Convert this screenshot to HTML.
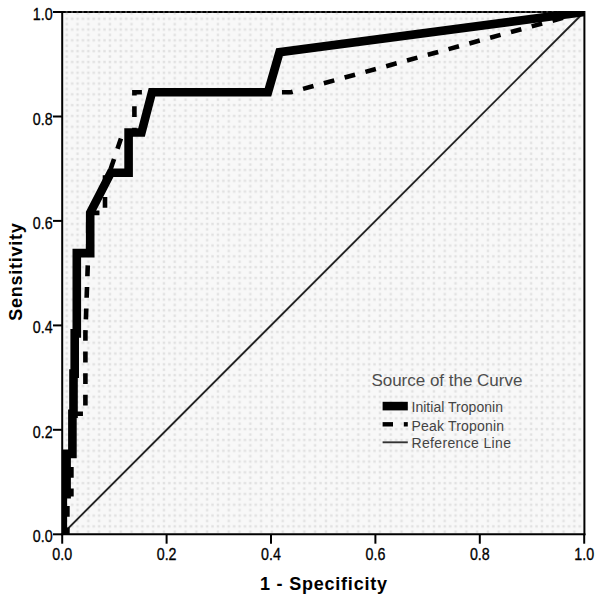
<!DOCTYPE html>
<html><head><meta charset="utf-8">
<style>
html,body{margin:0;padding:0;background:#fff;}
body{width:602px;height:605px;overflow:hidden;position:relative;}
svg{position:absolute;left:0;top:0;}
text{font-family:"Liberation Sans",sans-serif;}
</style></head>
<body>
<svg width="602" height="605" viewBox="0 0 602 605">
<defs>
<pattern id="dots" x="0" y="0" width="10.8" height="10.8" patternUnits="userSpaceOnUse">
<rect width="10.8" height="10.8" fill="#f8f8f8"/>
<rect x="0.75" y="6.75" width="2.4" height="2.4" fill="#e1e1e1"/>
<rect x="6.15" y="6.75" width="2.4" height="2.4" fill="#e1e1e1"/>
<rect x="0.75" y="1.35" width="2.4" height="2.4" fill="#e1e1e1"/>
</pattern>
<clipPath id="pc"><rect x="62" y="11" width="523" height="524"/></clipPath>
</defs>
<!-- plot background -->
<rect x="62.2" y="12" width="522" height="522.3" fill="url(#dots)"/>
<!-- frame -->
<line x1="62.2" y1="12" x2="584.4" y2="12" stroke="#3a3a3a" stroke-width="1.8"/>
<line x1="62.2" y1="12" x2="584.4" y2="12" stroke="#000" stroke-width="2" stroke-dasharray="3.5 1.9"/>
<line x1="584.4" y1="11" x2="584.4" y2="535.3" stroke="#000" stroke-width="2"/>
<line x1="62.2" y1="11" x2="62.2" y2="535.3" stroke="#000" stroke-width="2"/>
<line x1="61.2" y1="534.3" x2="585.4" y2="534.3" stroke="#000" stroke-width="2"/>
<g clip-path="url(#pc)">
<!-- reference line -->
<line x1="62.2" y1="534.3" x2="584.2" y2="12" stroke="#222" stroke-width="1.9"/>
<!-- peak troponin (dashed) -->
<g fill="none" stroke="#000" stroke-width="4.6" stroke-dasharray="10.8 10.75" stroke-linejoin="miter">
<path d="M134.4 132.5 V92.2 H291 L584.2 12" stroke-dashoffset="6.1"/>
<path d="M88.2 212.9 H105 V172.7 H109.4 L123 132.5 H134.4" stroke-dashoffset="21.1"/>
<path d="M88.2 212.9 V253.1 L85.4 333.4 V413.8 H71.4 V494.1 H67.4 V534.3 H62.2" stroke-dashoffset="12.1"/>
</g>
<!-- initial troponin (solid) -->
<path d="M62.2 534.3 H62.8 V494.1 H66.6 V453.9 H72.4 V413.8 H73.5 V373.6 H74.7 V333.4 H76.8 V253.1 H90.2 V212.9 L110.8 172.7 H128.6 V132.5 H141.5 L152 92.2 H268 L279.5 52.2 L584.2 12" fill="none" stroke="#000" stroke-width="8.6" stroke-linejoin="miter" stroke-miterlimit="10"/>
</g>
<!-- y ticks -->
<g stroke="#000" stroke-width="2">
<line x1="53" y1="12" x2="62" y2="12"/>
<line x1="53" y1="116.5" x2="62" y2="116.5"/>
<line x1="53" y1="220.9" x2="62" y2="220.9"/>
<line x1="53" y1="325.4" x2="62" y2="325.4"/>
<line x1="53" y1="429.8" x2="62" y2="429.8"/>
<line x1="53" y1="534.3" x2="62" y2="534.3"/>
<line x1="62.2" y1="534" x2="62.2" y2="543.7"/>
<line x1="166.6" y1="534" x2="166.6" y2="543.7"/>
<line x1="271" y1="534" x2="271" y2="543.7"/>
<line x1="375.4" y1="534" x2="375.4" y2="543.7"/>
<line x1="479.8" y1="534" x2="479.8" y2="543.7"/>
<line x1="584.2" y1="534" x2="584.2" y2="543.7"/>
</g>
<g font-size="16.2" fill="#000" stroke="#000" stroke-width="0.3" text-anchor="end">
<text transform="translate(52.6,20.0) scale(0.88,1)">1.0</text>
<text transform="translate(52.6,124.5) scale(0.88,1)">0.8</text>
<text transform="translate(52.6,228.9) scale(0.88,1)">0.6</text>
<text transform="translate(52.6,333.4) scale(0.88,1)">0.4</text>
<text transform="translate(52.6,437.8) scale(0.88,1)">0.2</text>
<text transform="translate(52.6,542.3) scale(0.88,1)">0.0</text>
</g>
<g font-size="16.2" fill="#000" stroke="#000" stroke-width="0.3" text-anchor="middle">
<text transform="translate(62.2,559.6) scale(0.88,1)">0.0</text>
<text transform="translate(166.6,559.6) scale(0.88,1)">0.2</text>
<text transform="translate(271,559.6) scale(0.88,1)">0.4</text>
<text transform="translate(375.4,559.6) scale(0.88,1)">0.6</text>
<text transform="translate(479.8,559.6) scale(0.88,1)">0.8</text>
<text transform="translate(584.2,559.6) scale(0.88,1)">1.0</text>
</g>
<text x="260" y="590" font-size="18" font-weight="bold" textLength="127" lengthAdjust="spacing">1 - Specificity</text>
<text transform="translate(22,320.8) rotate(-90)" font-size="18" font-weight="bold" textLength="97.5" lengthAdjust="spacing">Sensitivity</text>
<!-- legend -->
<text x="371.4" y="386" font-size="17" fill="#4d4d4d" textLength="151" lengthAdjust="spacing">Source of the Curve</text>
<rect x="382.6" y="401.8" width="25.2" height="8.6" fill="#000"/>
<line x1="382.6" y1="424.3" x2="393" y2="424.3" stroke="#000" stroke-width="4.4"/>
<line x1="403.8" y1="424.3" x2="407.8" y2="424.3" stroke="#000" stroke-width="4.4"/>
<line x1="382.6" y1="442.3" x2="407.8" y2="442.3" stroke="#333" stroke-width="1.9"/>
<g font-size="14" fill="#444">
<text x="411.5" y="411.7" textLength="91.5" lengthAdjust="spacing">Initial Troponin</text>
<text x="411.5" y="430.8" textLength="92.5" lengthAdjust="spacing">Peak Troponin</text>
<text x="411.5" y="448.2" textLength="99.5" lengthAdjust="spacing">Reference Line</text>
</g>
</svg>
</body></html>
